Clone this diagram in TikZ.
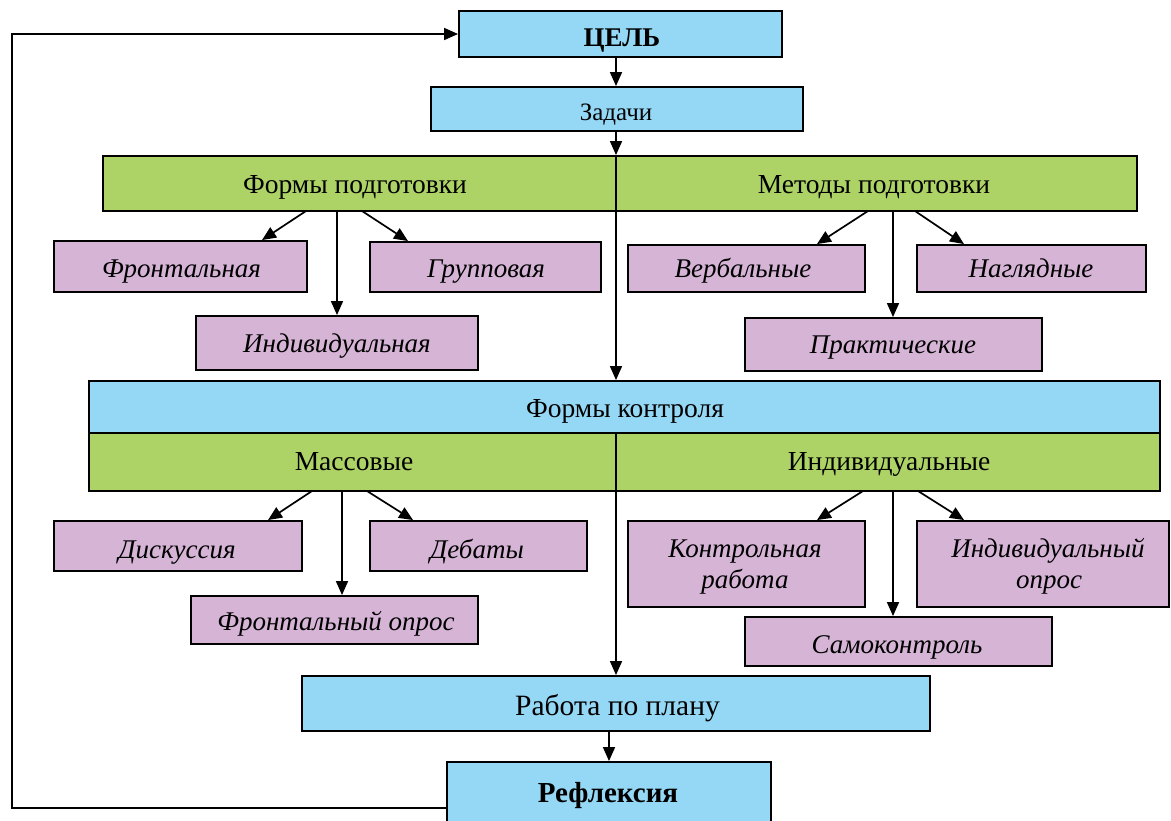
\documentclass[tikz,border=0pt]{standalone}
\usepackage{fontspec}
\setmainfont{Liberation Serif}
\usetikzlibrary{arrows.meta,calc}
\definecolor{skyfill}{RGB}{149,216,245}
\definecolor{leaffill}{RGB}{173,210,102}
\definecolor{lilacfill}{RGB}{214,180,214}
\begin{document}
\begin{tikzpicture}[x=1pt,y=-1pt,
  box/.style={draw=black, line width=1.9pt, inner sep=0pt},
  sky/.style={box, fill=skyfill},
  leaf/.style={box, fill=leaffill},
  lilac/.style={box, fill=lilacfill},
  txt/.style={inner sep=0pt, anchor=base, font=\fontsize{27.5}{31}\selectfont},
  itxt/.style={inner sep=0pt, anchor=base, font=\itshape\fontsize{27}{31}\selectfont},
  link/.style={line width=1.7pt},
  arr/.style={link, -{Triangle[length=14pt,width=12pt]}}]
\useasboundingbox (0,0) rectangle (1171,820);
\fill[white] (0,0) rectangle (1171,820);

% top of the chain
\node[sky, minimum width=323pt, minimum height=46pt] (goal) at (620.5,34) {};
\node[txt, font=\bfseries\fontsize{27}{31}\selectfont] (goalT) at (622,46) {ЦЕЛЬ};
\node[sky, minimum width=372pt, minimum height=44pt] (tasks) at (617,109) {};
\node[txt, font=\fontsize{25}{29}\selectfont] (tasksT) at (616,120) {Задачи};

% preparation: forms and methods
\node[leaf, minimum width=1034pt, minimum height=55pt] (prep) at (620,183.5) {};
\node[txt] (prepL) at (355,193) {Формы подготовки};
\node[txt] (prepR) at (874,193) {Методы подготовки};

\node[lilac, minimum width=253pt, minimum height=51pt] (front) at (180.5,266.5) {};
\node[itxt] (frontT) at (181.5,277) {Фронтальная};
\node[lilac, minimum width=231pt, minimum height=50pt] (group) at (485.5,267) {};
\node[itxt] (groupT) at (486,277) {Групповая};
\node[lilac, minimum width=282pt, minimum height=54pt] (indiv) at (337,343) {};
\node[itxt] (indivT) at (337,352) {Индивидуальная};
\node[lilac, minimum width=237pt, minimum height=47pt] (verbal) at (746.5,268.5) {};
\node[itxt] (verbalT) at (743,277) {Вербальные};
\node[lilac, minimum width=229pt, minimum height=47pt] (visual) at (1031.5,268.5) {};
\node[itxt] (visualT) at (1031,277) {Наглядные};
\node[lilac, minimum width=297pt, minimum height=53pt] (practical) at (893.5,344.5) {};
\node[itxt] (practicalT) at (893,353) {Практические};

% forms of control
\node[sky, minimum width=1071pt, minimum height=52pt] (ctrl) at (624.5,407) {};
\node[txt] (ctrlT) at (625,417) {Формы контроля};
\node[leaf, minimum width=1071pt, minimum height=58pt] (ctrlg) at (624.5,462) {};
\node[txt] (ctrlL) at (354,470) {Массовые};
\node[txt] (ctrlR) at (889,470) {Индивидуальные};

\node[lilac, minimum width=248pt, minimum height=50pt] (disc) at (178,546) {};
\node[itxt] (discT) at (177,558) {Дискуссия};
\node[lilac, minimum width=217pt, minimum height=50pt] (debate) at (478.5,546) {};
\node[itxt] (debateT) at (477,558) {Дебаты};
\node[lilac, minimum width=287pt, minimum height=48pt] (frontpoll) at (334.5,620) {};
\node[itxt] (frontpollT) at (336,630) {Фронтальный опрос};
\node[lilac, minimum width=237pt, minimum height=86pt] (test) at (746.5,564) {};
\node[itxt] (testT1) at (745,557) {Контрольная};
\node[itxt] (testT2) at (745,588) {работа};
\node[lilac, minimum width=252pt, minimum height=86pt] (indpoll) at (1043,564) {};
\node[itxt] (indpollT1) at (1048,557) {Индивидуальный};
\node[itxt] (indpollT2) at (1049,588) {опрос};
\node[lilac, minimum width=307pt, minimum height=49pt] (self) at (898.5,641.5) {};
\node[itxt] (selfT) at (897,653) {Самоконтроль};

% end of the chain
\node[sky, minimum width=628pt, minimum height=55pt] (plan) at (616,703.5) {};
\node[txt, font=\fontsize{29.5}{33}\selectfont] (planT) at (617.5,715) {Работа по плану};
\node[sky, minimum width=324pt, minimum height=62pt] (refl) at (609,793) {};
\node[txt, font=\bfseries\fontsize{29}{33}\selectfont] (reflT) at (608,802) {Рефлексия};

% main spine
\coordinate (spine) at (616,0);
\draw[arr] (goal.south -| spine) -- (tasks.north -| spine);
\draw[arr] (tasks.south -| spine) -- (prep.north -| spine);
\draw[arr] (prep.north -| spine) -- (ctrl.north -| spine);
\draw[arr] (ctrlg.north -| spine) -- (plan.north -| spine);
\draw[arr] (plan.south -| refl.north) -- (refl.north);

% branching hubs under the green bars
\coordinate (hubA) at (337,211);
\coordinate (hubB) at (893,211);
\coordinate (hubC) at (342,491);
\coordinate (hubD) at (893,491);

\draw[arr] ([xshift=-31pt]hubA) -- ([xshift=81.5pt]front.north);
\draw[arr] (hubA) -- (indiv.north -| hubA);
\draw[arr] ([xshift=25pt]hubA) -- ([xshift=-77.5pt]group.north);

\draw[arr] ([xshift=-25pt]hubB) -- ([xshift=70.5pt]verbal.north);
\draw[arr] (hubB) -- (practical.north -| hubB);
\draw[arr] ([xshift=22pt]hubB) -- ([xshift=-67.5pt]visual.north);

\draw[arr] ([xshift=-30pt]hubC) -- ([xshift=90pt]disc.north);
\draw[arr] (hubC) -- (frontpoll.north -| hubC);
\draw[arr] ([xshift=25pt]hubC) -- ([xshift=-65.5pt]debate.north);

\draw[arr] ([xshift=-30pt]hubD) -- ([xshift=70.5pt]test.north);
\draw[arr] (hubD) -- (self.north -| hubD);
\draw[arr] ([xshift=25pt]hubD) -- ([xshift=-79pt]indpoll.north);

% feedback loop from reflection back to the goal
\coordinate (fbStart) at (447,808);
\coordinate (fbLow) at (12,808);
\coordinate (fbHigh) at (12,34);
\draw[arr] (fbStart) -- (fbLow) -- (fbHigh) -- (goal.west);
\end{tikzpicture}
\end{document}
